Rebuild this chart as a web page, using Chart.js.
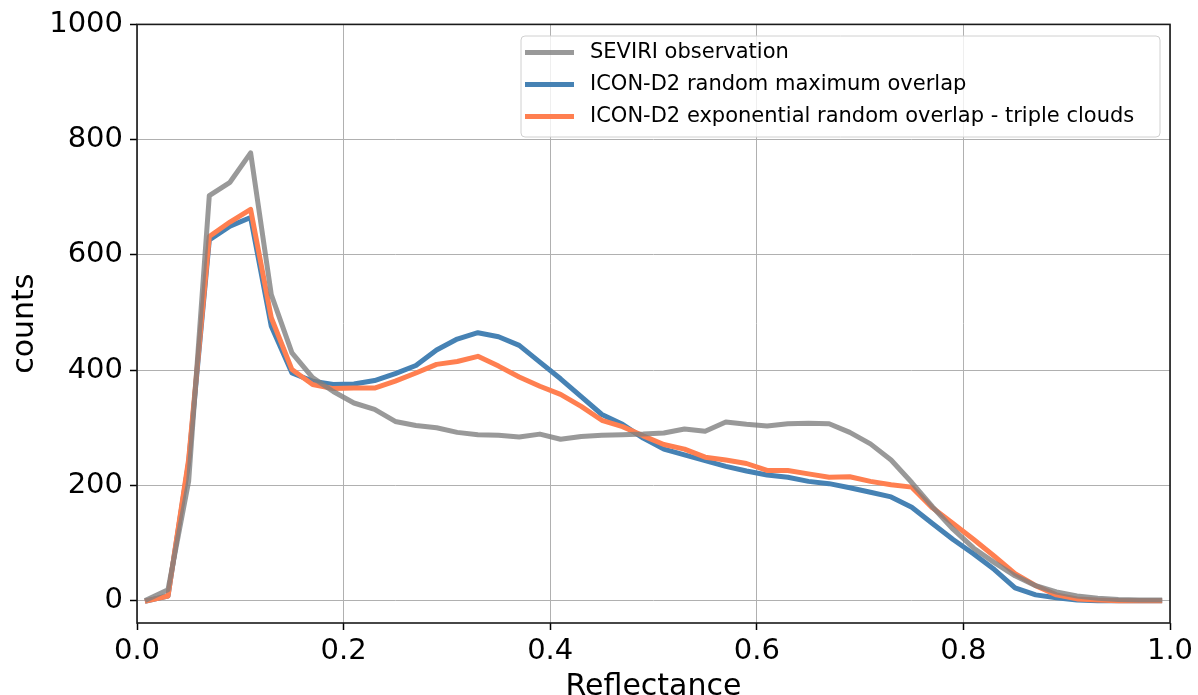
<!DOCTYPE html>
<html>
<head>
<meta charset="utf-8">
<script src="https://cdn.jsdelivr.net/npm/chart.js@4.4.0/dist/chart.umd.min.js"></script>
<style>
  html, body { margin: 0; padding: 0; background: #fff; }
</style>
</head>
<body>
<canvas id="histChart" width="1198" height="695"></canvas>
<script>
// bin centres of the reflectance histogram
const reflectance = [0.01, 0.03, 0.05, 0.07, 0.09, 0.11, 0.13, 0.15, 0.17, 0.19,
  0.21, 0.23, 0.25, 0.27, 0.29, 0.31, 0.33, 0.35, 0.37, 0.39,
  0.41, 0.43, 0.45, 0.47, 0.49, 0.51, 0.53, 0.55, 0.57, 0.59,
  0.61, 0.63, 0.65, 0.67, 0.69, 0.71, 0.73, 0.75, 0.77, 0.79,
  0.81, 0.83, 0.85, 0.87, 0.89, 0.91, 0.93, 0.95, 0.97, 0.99];

const seviri = [2, 19, 207, 703, 726, 777, 531, 430, 387, 363,
  343, 332, 311, 304, 300, 292, 288, 287, 284, 289,
  280, 285, 287, 288, 289, 291, 298, 294, 310, 306,
  303, 307, 308, 307, 292, 272, 244, 205, 163, 124,
  91, 66, 43, 26, 15, 8, 4, 2, 1, 1];

const randomMax = [0, 8, 240, 626, 650, 665, 476, 395, 381, 375,
  376, 382, 394, 408, 435, 454, 465, 458, 443, 414,
  385, 354, 323, 306, 282, 263, 253, 243, 233, 225,
  218, 214, 207, 203, 196, 188, 180, 162, 134, 106,
  81, 54, 22, 10, 5, 1, 0, 0, 0, 0];

const expRandom = [0, 8, 245, 632, 657, 679, 491, 401, 375, 368,
  369, 369, 381, 395, 410, 415, 424, 407, 388, 372,
  358, 337, 313, 302, 286, 271, 263, 249, 244, 238,
  226, 226, 220, 214, 215, 207, 201, 197, 161, 134,
  106, 77, 47, 26, 10, 3, 1, 0, 0, 0];

const xTicks = [0, 0.2, 0.4, 0.6, 0.8, 1.0];
const yTicks = [0, 200, 400, 600, 800, 1000];

const seriesNames = ['SEVIRI observation', 'ICON-D2 random maximum overlap',
  'ICON-D2 exponential random overlap - triple clouds'];
const seriesColors = ['rgba(128,128,128,0.8)', '#4682b4', '#ff7f50'];

Chart.defaults.font.family = "'DejaVu Sans', sans-serif";
Chart.defaults.color = '#000';

function toPoints(values) {
  return reflectance.map((x, i) => ({ x: x, y: values[i] }));
}

// frame (all four spines) + matplotlib style legend box
const framePlugin = {
  id: 'frame',
  afterDraw(chart) {
    const c = chart.ctx;
    const a = chart.chartArea;
    c.save();
    c.strokeStyle = '#1a1a1a';
    c.lineWidth = 1.6;
    c.strokeRect(a.left, a.top, a.right - a.left, a.bottom - a.top);

    // legend
    const bx = 521, by = 36, bw = 639, bh = 101, r = 4;
    c.beginPath();
    c.moveTo(bx + r, by);
    c.arcTo(bx + bw, by, bx + bw, by + bh, r);
    c.arcTo(bx + bw, by + bh, bx, by + bh, r);
    c.arcTo(bx, by + bh, bx, by, r);
    c.arcTo(bx, by, bx + bw, by, r);
    c.closePath();
    c.fillStyle = 'rgba(255,255,255,0.8)';
    c.fill();
    c.strokeStyle = '#d0d0d0';
    c.lineWidth = 1;
    c.stroke();

    c.font = "21px 'DejaVu Sans'";
    c.textBaseline = 'middle';
    c.textAlign = 'left';
    seriesNames.forEach((name, i) => {
      const y = 52.5 + i * 32;
      c.beginPath();
      c.moveTo(525, y);
      c.lineTo(574, y);
      c.strokeStyle = seriesColors[i];
      c.lineWidth = 5;
      c.stroke();
      c.fillStyle = '#000';
      c.fillText(name, 590, y);
    });
    c.restore();
  }
};

const lineStyle = {
  borderWidth: 5,
  pointRadius: 0,
  tension: 0,
  borderJoinStyle: 'round',
  borderCapStyle: 'square',
  fill: false
};

const ctx = document.getElementById('histChart').getContext('2d');
const histChart = new Chart(ctx, {
  type: 'line',
  data: {
    // index 0 is drawn on top
    datasets: [
      Object.assign({ label: seriesNames[0], data: toPoints(seviri), borderColor: seriesColors[0] }, lineStyle),
      Object.assign({ label: seriesNames[2], data: toPoints(expRandom), borderColor: seriesColors[2] }, lineStyle),
      Object.assign({ label: seriesNames[1], data: toPoints(randomMax), borderColor: seriesColors[1] }, lineStyle)
    ]
  },
  options: {
    responsive: false,
    animation: false,
    devicePixelRatio: 1,
    layout: { padding: { top: 24, right: 28, bottom: 0, left: 0 } },
    plugins: {
      legend: { display: false },
      tooltip: { enabled: false }
    },
    scales: {
      x: {
        type: 'linear',
        min: 0,
        max: 1,
        afterBuildTicks: (axis) => { axis.ticks = xTicks.map(v => ({ value: v })); },
        afterFit: (axis) => {
          axis.height = 72;
          axis.paddingLeft = 0;
          axis.paddingRight = 0;
        },
        ticks: {
          callback: (v) => Number(v).toFixed(1),
          font: { size: 29 },
          color: '#000',
          padding: 4,
          maxRotation: 0,
          autoSkip: false
        },
        grid: { color: '#b0b0b0', lineWidth: 1, tickColor: '#000', tickLength: 7, tickWidth: 1.5 },
        border: { display: false },
        title: {
          display: true,
          text: 'Reflectance',
          color: '#000',
          font: { size: 30, lineHeight: 1 },
          padding: { top: -7, bottom: -7 }
        }
      },
      y: {
        type: 'linear',
        min: -38.8,
        max: 1000,
        afterBuildTicks: (axis) => { axis.ticks = yTicks.map(v => ({ value: v })); },
        afterFit: (axis) => { axis.width = 137; },
        ticks: {
          callback: (v) => String(v),
          font: { size: 29 },
          color: '#000',
          padding: 7
        },
        grid: { color: '#b0b0b0', lineWidth: 1, tickColor: '#000', tickLength: 7, tickWidth: 1.5 },
        border: { display: false },
        title: {
          display: true,
          text: 'counts',
          color: '#000',
          font: { size: 30, lineHeight: 1 },
          padding: { top: 10, bottom: 10 }
        }
      }
    }
  },
  plugins: [framePlugin]
});
</script>
</body>
</html>
